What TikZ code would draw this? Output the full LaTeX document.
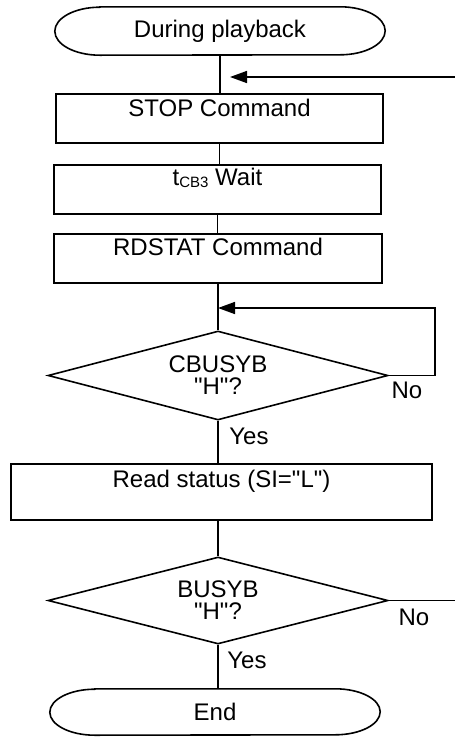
\documentclass[tikz,border=0pt]{standalone}
\usepackage{fontspec}
\setmainfont{Liberation Sans}
\usetikzlibrary{arrows.meta,shapes.geometric}
\newcommand{\dq}{\textquotedbl}
\begin{document}
\begin{tikzpicture}[x=1pt,y=1pt,
  every node/.style={font=\fontsize{24}{22}\selectfont},
  ln/.style={line width=1.6pt,line join=miter},
  arr/.style={ln,-{Triangle[length=17pt,width=12pt]}},
  termnode/.style={inner sep=0pt,minimum height=#1},
  procbox/.style={draw,line width=1.6pt,inner sep=0pt,anchor=north},
  decide/.style={draw,line width=1.6pt,diamond,aspect=3.8,inner sep=0pt,align=center},
  lbl/.style={inner sep=0pt}
]
\useasboundingbox (0,0) rectangle (455,-737);
\newcommand{\termpath}[2]{%
  \draw[ln] ([xshift=45pt]#1.north west) -- ([xshift=-45pt]#1.north east)
    arc[start angle=90,end angle=-90,x radius=45pt,y radius=#2]
    -- ([xshift=45pt]#1.south west)
    arc[start angle=270,end angle=90,x radius=45pt,y radius=#2] -- cycle;}

% start terminal
\node[termnode=48pt,minimum width=330pt] (start) at (220,-31) {During playback};
\termpath{start}{24pt}

% process boxes
\node[procbox,minimum width=327pt,text height=23pt,text depth=26pt] (stop) at (219.5,-93) {STOP Command};
\node[procbox,minimum width=327pt,text height=21pt,text depth=28pt] (wait) at (217.5,-164)
  {t\raisebox{-1.5pt}{\fontsize{15}{15}\selectfont CB3} Wait};
\node[procbox,minimum width=328pt,text height=22pt,text depth=27pt] (rdstat) at (218,-233) {RDSTAT Command};

% decision 1
\node[decide,minimum width=340pt,minimum height=89pt] (d1) at (218,-375.5) {CBUSYB\\\dq H\dq ?};

% read status
\node[procbox,minimum width=421pt,text height=24pt,text depth=32pt] (read) at (221.5,-463) {Read status (SI=\dq L\dq )};

% decision 2
\node[decide,minimum width=340pt,minimum height=87pt] (d2) at (218,-600.5) {BUSYB\\\dq H\dq ?};

% end terminal
\node[termnode=46pt,minimum width=330pt] (end) at (215,-712) {End};
\termpath{end}{23pt}

% connectors
\draw[ln] (start.south) -- (start.south |- stop.north);
\draw[ln] (stop.south) -- (stop.south |- wait.north);
\draw[ln] (wait.south) -- (wait.south |- rdstat.north);
\draw[ln] (rdstat.south) -- (rdstat.south |- d1.north);
\draw[ln] (d1.south) -- (d1.south |- read.north);
\draw[ln] (d2.north |- read.south) -- (d2.north);
\draw[ln] (d2.south) -- (d2.south |- end.north);

% incoming arrow at top
\coordinate (inA) at (455,-77);
\coordinate (inB) at (230,-77);
\draw[arr] (inA) -- (inB);

% loop back from d1
\coordinate (lp) at (435,-308);
\draw[arr] (d1.east) -| (lp) -- (d1.north |- lp);

% exit from d2
\coordinate (outB) at (455,-600.5);
\draw[ln] (d2.east) -- (outB);

% labels
\node[lbl] (no1) at (407,-390) {No};
\node[lbl] (yes1) at (249,-436) {Yes};
\node[lbl] (no2) at (414,-617) {No};
\node[lbl] (yes2) at (247,-660) {Yes};
\end{tikzpicture}
\end{document}
